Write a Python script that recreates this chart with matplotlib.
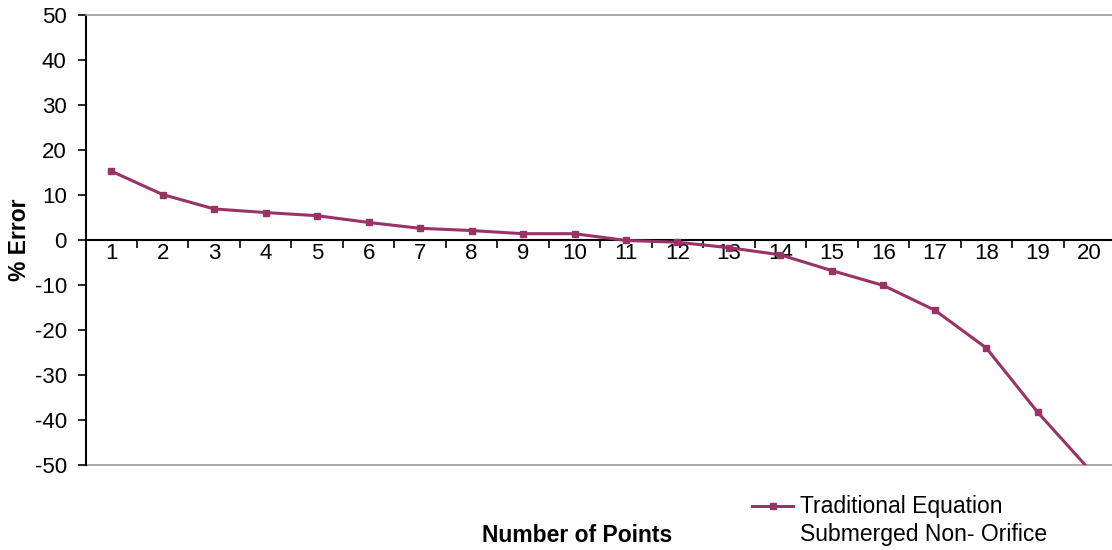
import matplotlib
matplotlib.use("Agg")
import matplotlib.pyplot as plt
from matplotlib.legend_handler import HandlerLine2D
from matplotlib.ticker import FixedLocator, NullFormatter

plt.rcParams['font.family'] = ['Liberation Sans', 'DejaVu Sans']

# Data
points = list(range(1, 21))
percent_error = [15.3, 10.1, 6.9, 6.1, 5.4, 3.9, 2.6, 2.1, 1.4, 1.4,
                 -0.1, -0.5, -1.7, -3.3, -6.8, -10.1, -15.6, -24.0, -38.3, -51.0]
series_label = "Traditional Equation\nSubmerged Non- Orifice"
y_ticks = list(range(-50, 51, 10))

W, H = 1112, 550
fig = plt.figure(figsize=(W / 100, H / 100), dpi=100)
left_px, right_px, top_px, bottom_px = 85.5, 1115.0, 15.0, 465.0
ax = fig.add_axes([left_px / W, 1 - bottom_px / H,
                   (right_px - left_px) / W, (bottom_px - top_px) / H])

color = '#993366'
tick_fs = 16
label_fs = 16.5

line, = ax.plot(points, percent_error, color=color, lw=2.2, marker='s',
                markersize=4.8, label=series_label, zorder=3)

ax.set_xlim(0.5, 20.5)
ax.set_ylim(-50, 50)

# Category axis sits on the zero line
ax.spines['bottom'].set_position(('data', 0))
ax.spines['bottom'].set_color('black')
ax.spines['bottom'].set_linewidth(1.5)
ax.spines['left'].set_color('black')
ax.spines['left'].set_linewidth(1.5)
ax.spines['right'].set_visible(False)
ax.spines['top'].set_color('#999999')
ax.spines['top'].set_linewidth(1.2)
ax.axhline(-50, color='#999999', lw=1.2, clip_on=False, zorder=1)

boundaries = [p + 0.5 for p in points]
ax.xaxis.set_major_locator(FixedLocator(boundaries))
ax.xaxis.set_major_formatter(NullFormatter())
ax.xaxis.set_minor_locator(FixedLocator(points))
ax.set_xticklabels([str(p) for p in points], minor=True)
ax.tick_params(axis='x', which='major', direction='out', length=6, width=1.2, color='black')
ax.tick_params(axis='x', which='minor', length=0, pad=2.5, labelsize=tick_fs)

ax.set_yticks(y_ticks)
ax.set_yticklabels([str(v) for v in y_ticks])
ax.tick_params(axis='y', direction='out', length=6, width=1.2, labelsize=tick_fs, pad=7.5)

fig.text(20 / W, 1 - 240 / H, '% Error', rotation=90, ha='center', va='center',
         fontsize=label_fs, fontweight='bold')
fig.text(577 / W, 1 - 536 / H, 'Number of Points', ha='center', va='center',
         fontsize=label_fs, fontweight='bold')


class RaisedLineHandler(HandlerLine2D):
    """Line handle aligned with the first line of a two-line label."""
    def __init__(self, shift, **kw):
        super().__init__(**kw)
        self.shift = shift

    def create_artists(self, legend, orig_handle, xdescent, ydescent,
                       width, height, fontsize, trans):
        artists = super().create_artists(legend, orig_handle, xdescent, ydescent,
                                         width, height, fontsize, trans)
        for a in artists:
            a.set_ydata([y + self.shift for y in a.get_ydata()])
        return artists


leg = fig.legend(handles=[line], loc='upper left',
                 bbox_to_anchor=(752 / W, 1 - 495 / H), frameon=False,
                 fontsize=label_fs, handlelength=1.8, handletextpad=0.3,
                 borderpad=0, borderaxespad=0,
                 handler_map={line: RaisedLineHandler(shift=11.5, numpoints=1)})
for t in leg.get_texts():
    t.set_linespacing(1.3)

fig.savefig('out.png', dpi=100)
